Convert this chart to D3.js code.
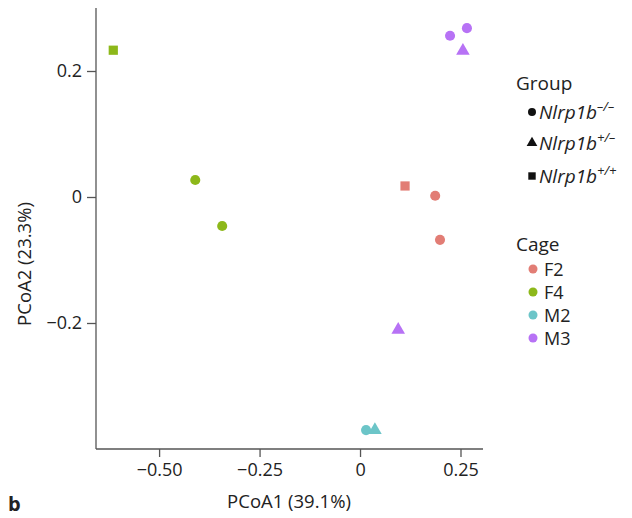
<!DOCTYPE html>
<html>
<head>
<meta charset="utf-8">
<script src="https://cdn.jsdelivr.net/npm/d3@7"></script>
<style>
  body { margin: 0; background: #fff; }
  text { font-family: "Open Sans", "Noto Sans", sans-serif; fill: #222; }
</style>
</head>
<body>
<div id="chart"></div>
<script>
// PCoA coordinates per sample
const pcoa1 = [-0.614, -0.41, -0.343, 0.112, 0.187, 0.199, 0.224, 0.266, 0.256, 0.095, 0.015, 0.037];
const pcoa2 = [0.233, 0.027, -0.046, 0.0175, 0.002, -0.068, 0.256, 0.268, 0.232, -0.211, -0.37, -0.37];
const cage = ["F4", "F4", "F4", "F2", "F2", "F2", "M3", "M3", "M3", "M3", "M2", "M2"];
const group = ["+/+", "-/-", "-/-", "+/+", "-/-", "-/-", "-/-", "-/-", "+/-", "+/-", "-/-", "+/-"];

const cages = ["F2", "F4", "M2", "M3"];
const cageColors = ["#e27d75", "#8db81a", "#6cc5c8", "#b772f5"];
const groups = ["-/-", "+/-", "+/+"];
const groupLabels = ["\u2013/\u2013", "+/\u2013", "+/+"];
const xTicks = [-0.5, -0.25, 0, 0.25];
const yTicks = [0.2, 0, -0.2];

const svgWidth = 632, svgHeight = 518;
const margin = { top: 8, left: 96, right: 149, bottom: 69 };
const width = svgWidth - margin.left - margin.right;
const height = svgHeight - margin.top - margin.bottom;

const svg = d3.select("#chart").append("svg")
    .attr("width", svgWidth)
    .attr("height", svgHeight);

const g = svg.append("g")
    .attr("transform", `translate(${margin.left}, ${margin.top})`);

const x = d3.scaleLinear().domain([-0.657, 0.306]).range([0, width]);
const y = d3.scaleLinear().domain([-0.4, 0.3]).range([height, 0]);
const color = d3.scaleOrdinal().domain(cages).range(cageColors);
const shape = d3.scaleOrdinal().domain(groups)
    .range([d3.symbolCircle, d3.symbolTriangle, d3.symbolSquare]);
const symSize = { "-/-": 80, "+/-": 80, "+/+": 85 };

const fmtX = d => d === 0 ? "0" : d3.format(".2f")(d).replace("-", "\u2013");
const fmtY = d => d === 0 ? "0" : d3.format(".1f")(d).replace("-", "\u2013");

const xAxis = g.append("g")
    .attr("transform", `translate(0, ${height})`)
    .call(d3.axisBottom(x).tickValues(xTicks).tickSize(8).tickPadding(6).tickFormat(fmtX));
const yAxis = g.append("g")
    .call(d3.axisLeft(y).tickValues(yTicks).tickSize(9).tickPadding(5).tickFormat(fmtY));

[xAxis, yAxis].forEach(a => {
    a.select(".domain").attr("stroke", "#555").attr("stroke-width", 1.3);
    a.selectAll(".tick line").attr("stroke", "#555").attr("stroke-width", 1.3);
    a.selectAll(".tick text").attr("font-size", 18).attr("fill", "#222")
        .attr("font-family", "'Open Sans', sans-serif");
});
// keep axes as open L shape
xAxis.select(".domain").attr("d", `M0,0H${width}`);
yAxis.select(".domain").attr("d", `M0,0V${height}`);

// Points
const points = pcoa1.map((v, i) => ({ x: v, y: pcoa2[i], cage: cage[i], group: group[i] }));
g.selectAll(".pt").data(points).join("path")
    .attr("class", "pt")
    .attr("transform", d => `translate(${x(d.x)}, ${y(d.y)})`)
    .attr("d", d => d3.symbol().type(shape(d.group)).size(symSize[d.group])())
    .attr("fill", d => color(d.cage));

// Axis titles
svg.append("text")
    .attr("x", 289).attr("y", 508)
    .attr("text-anchor", "middle").attr("font-size", 18.5)
    .text("PCoA1 (39.1%)");
svg.append("text")
    .attr("transform", "translate(31, 264) rotate(-90)")
    .attr("text-anchor", "middle").attr("font-size", 18.5)
    .text("PCoA2 (23.3%)");

// Panel letter
svg.append("text")
    .attr("x", 8).attr("y", 511)
    .attr("font-size", 20).attr("font-weight", "bold")
    .text("b");

// Group legend
const lg = svg.append("g").attr("transform", "translate(516, 0)");
lg.append("text").attr("x", 0).attr("y", 90).attr("font-size", 19).text("Group");
const gItems = lg.selectAll(".gi").data(groups).join("g")
    .attr("class", "gi")
    .attr("transform", (d, i) => `translate(0, ${[112, 143, 176][i]})`);
gItems.append("path")
    .attr("transform", "translate(16, 0)")
    .attr("d", d => d3.symbol().type(shape(d)).size(d === "+/+" ? 55 : 50)())
    .attr("fill", "#111");
const gt = gItems.append("text")
    .attr("x", 23).attr("y", 7)
    .attr("font-size", 19).attr("font-style", "italic");
gt.append("tspan").text("Nlrp1b");
gt.append("tspan")
    .attr("dy", -8).attr("font-size", 13)
    .text((d, i) => groupLabels[i]);

// Cage legend
lg.append("text").attr("x", 0).attr("y", 251).attr("font-size", 19).text("Cage");
const cItems = lg.selectAll(".ci").data(cages).join("g")
    .attr("class", "ci")
    .attr("transform", (d, i) => `translate(0, ${269 + i * 23})`);
cItems.append("circle")
    .attr("cx", 17).attr("r", 4.5)
    .attr("fill", d => color(d));
cItems.append("text")
    .attr("x", 28).attr("y", 6.5)
    .attr("font-size", 18)
    .text(d => d);
</script>
</body>
</html>
